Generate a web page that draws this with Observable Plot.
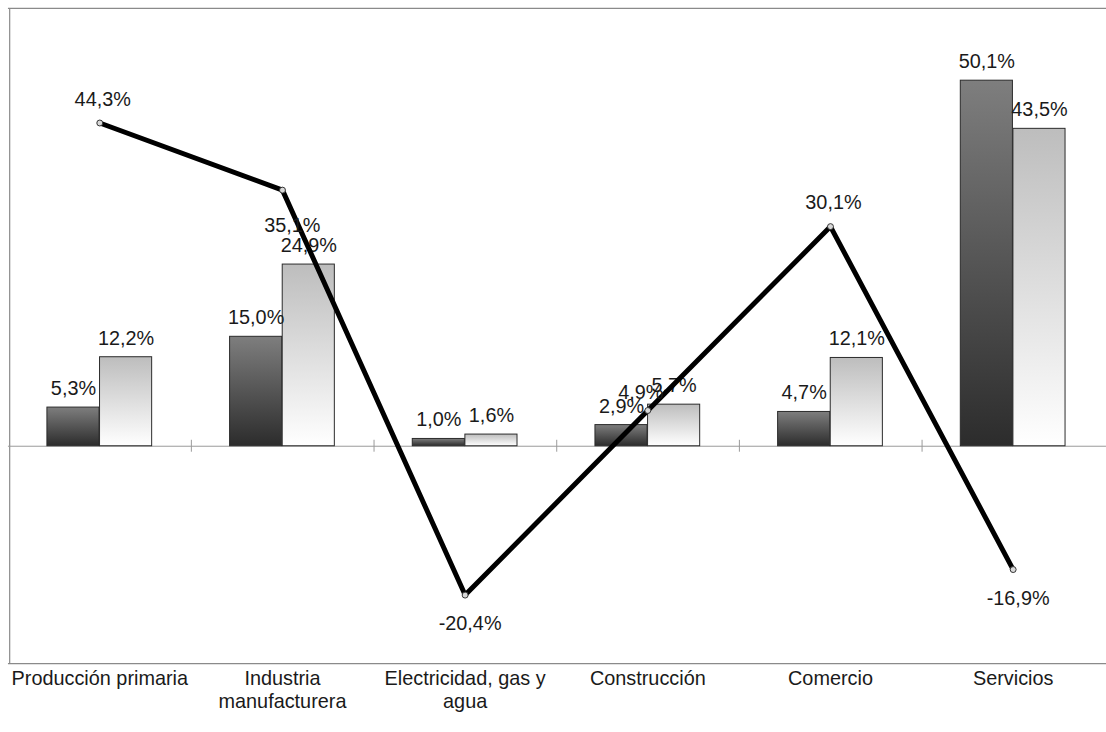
<!DOCTYPE html>
<html>
<head>
<meta charset="utf-8">
<script src="https://cdn.jsdelivr.net/npm/d3@7"></script>
<script src="https://cdn.jsdelivr.net/npm/@observablehq/plot@0.6"></script>
<style>
  html, body { margin: 0; padding: 0; background: #fff; overflow: hidden; }
  #chart { width: 1106px; height: 732px; overflow: hidden; }
  svg { display: block; }
  #defs { position: absolute; width: 0; height: 0; }
</style>
</head>
<body>
<svg id="defs" width="0" height="0" aria-hidden="true">
  <defs>
    <linearGradient id="gDark" x1="0" y1="0" x2="0" y2="1">
      <stop offset="0%" stop-color="#7e7e7e"/>
      <stop offset="100%" stop-color="#2c2c2c"/>
    </linearGradient>
    <linearGradient id="gLight" x1="0" y1="0" x2="0" y2="1">
      <stop offset="0%" stop-color="#bdbdbd"/>
      <stop offset="100%" stop-color="#ffffff"/>
    </linearGradient>
  </defs>
</svg>
<div id="chart"></div>
<script>
const categories = ["Producción primaria", "Industria manufacturera", "Electricidad, gas y agua", "Construcción", "Comercio", "Servicios"];
const categoryLabels = ["Producción primaria", "Industria\nmanufacturera", "Electricidad, gas y\nagua", "Construcción", "Comercio", "Servicios"];
const darkValues = [5.3, 15.0, 1.0, 2.9, 4.7, 50.1];
const lightValues = [12.2, 24.9, 1.6, 5.7, 12.1, 43.5];
const lineValues = [44.3, 35.1, -20.4, 4.9, 30.1, -16.9];
const lineLabelPlacement = ["above", "belowRight", "below", "left", "above", "below"];
const yDomain = [-29.8, 60];

const fmt = v => v.toFixed(1).replace(".", ",") + "%";
const dark = categories.map((c, i) => ({cat: c, v: darkValues[i]}));
const light = categories.map((c, i) => ({cat: c, v: lightValues[i]}));
const line = categories.map((c, i) => ({cat: c, v: lineValues[i], pos: lineLabelPlacement[i]}));
const boundaries = categories.slice(0, -1);

// The SVG is drawn a little wider than the 1106px page so the plot's right edge falls outside the view
const W = 1114, H = 732;
const x0 = 6.5, x1 = 1113.5;
const band = (x1 - x0) / categories.length;
const barW = 53;
const outer = band / 2 - barW;
const font = "'Liberation Sans', Arial, sans-serif";
const textStyle = {fontSize: 20, fill: "#1a1a1a", fontFamily: font};
const frameColor = "#8a8a8a";

const placements = {
  above: {dx: 3, dy: -24},
  below: {dx: 5, dy: 29},
  belowRight: {dx: 10, dy: 36},
  left: {dx: -7, dy: -18}
};

const svg = Plot.plot({
  width: W,
  height: H,
  marginTop: 8,
  marginBottom: 64,
  marginLeft: 8,
  marginRight: 0,
  x: {type: "band", domain: categories, range: [x0, x1], padding: 0, axis: null},
  y: {domain: yDomain, axis: null},
  marks: [
    Plot.ruleY(yDomain, {stroke: frameColor, strokeWidth: 1.2}),
    Plot.ruleX([categories[0]], {dx: -band / 2 + 1.5, stroke: frameColor, strokeWidth: 1.2}),
    Plot.ruleY([0], {stroke: "#9a9a9a", strokeWidth: 1}),
    Plot.ruleX(boundaries, {x: d => d, y1: 0, y2: 0, insetTop: -6, insetBottom: -6, dx: band / 2, stroke: "#9a9a9a"}),
    Plot.barY(dark, {x: "cat", y: "v", insetLeft: outer, insetRight: band - outer - barW, fill: "url(#gDark)", stroke: "#2a2a2a", strokeWidth: 1}),
    Plot.barY(light, {x: "cat", y: "v", insetLeft: outer + barW, insetRight: outer, fill: "url(#gLight)", stroke: "#2a2a2a", strokeWidth: 1}),
    Plot.text(dark, {x: "cat", y: "v", text: d => fmt(d.v), dx: -barW / 2, dy: -19, ...textStyle}),
    Plot.text(light, {x: "cat", y: "v", text: d => fmt(d.v), dx: barW / 2, dy: -19, ...textStyle}),
    Plot.line(line, {x: "cat", y: "v", stroke: "#000", strokeWidth: 5, strokeLinejoin: "miter"}),
    Plot.dot(line, {x: "cat", y: "v", r: 3, fill: "#d8d8d8", stroke: "#333", strokeWidth: 1}),
    ...Object.entries(placements).map(([k, p]) =>
      Plot.text(line.filter(d => d.pos === k), {x: "cat", y: "v", text: d => fmt(d.v), dx: p.dx, dy: p.dy, ...textStyle})
    ),
    Plot.text(categories, {x: d => d, frameAnchor: "bottom", text: (d, i) => categoryLabels[i], lineAnchor: "top", dy: 5, lineHeight: 1.15, ...textStyle})
  ]
});

document.getElementById("chart").appendChild(svg);
</script>
</body>
</html>
